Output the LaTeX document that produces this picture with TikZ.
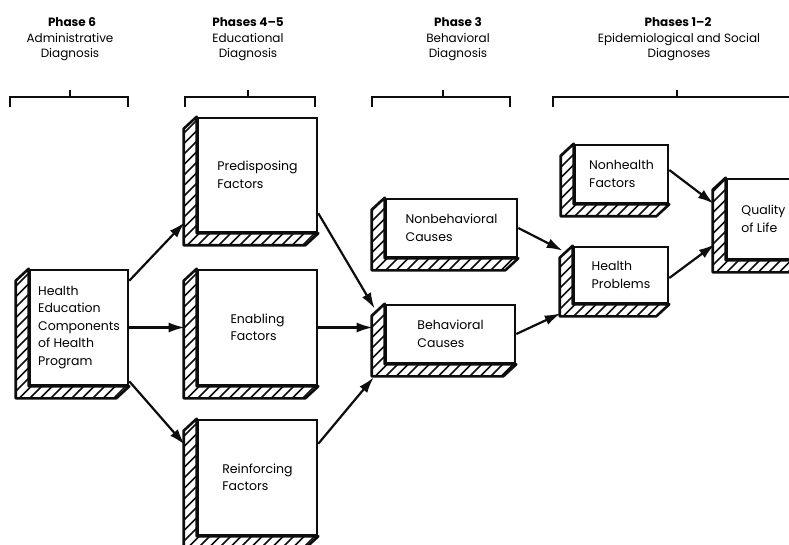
\documentclass[tikz,border=0pt]{standalone}
\usepackage{fontspec}
\setmainfont{Poppins}
\usetikzlibrary{arrows.meta, calc, positioning}
\definecolor{inkBlack}{gray}{0.05}

\tikzset{
  box/.style={draw=inkBlack, line width=2.6pt, fill=white, inner sep=0pt,
    align=left, font=\fontsize{12.5}{17.5}\selectfont},
  boxline/.style={draw=inkBlack, line width=2.6pt, line join=round},
  hatch/.style={inkBlack, line width=1.5pt},
  flow/.style={draw=inkBlack, line width=2.2pt, -{Latex[length=16pt,width=10pt]}},
  bracket/.style={draw=inkBlack, line width=1.8pt},
  phase/.style={font=\bfseries\fontsize{12}{14}\selectfont},
  diag/.style={align=center, font=\fontsize{12}{15}\selectfont},
}

% hatched extrusion on the lower left of a box
\newcommand{\extrude}[1]{%
  \begin{scope}
    \clip (#1.north west) -- ++(-13,12) -- ($(#1.south west)+(-13,12)$)
      -- ($(#1.south east)+(-13,12)$) -- (#1.south east) -- (#1.south west) -- cycle;
    \fill[white] ($(#1.south west)+(-20,20)$) rectangle (#1.north east);
    \foreach \k in {-15,...,15}
      \draw[hatch] ($(#1.south west)+(\k*10.5,13)$) -- ++(160,-160);
  \end{scope}
  \draw[boxline] (#1.north west) -- ++(-13,12) -- ($(#1.south west)+(-13,12)$)
    -- ($(#1.south east)+(-13,12)$) -- (#1.south east) -- (#1.south west) -- cycle;
}

\begin{document}
\begin{tikzpicture}[x=1pt, y=-1pt]
  \useasboundingbox (0,0) rectangle (789,545);
  \clip (0,0) rectangle (789,545);

  % phases
  \node[phase] (ph6) at (72,22) {Phase 6};
  \node[phase] (ph45) at (248,22) {Phases 4--5};
  \node[phase] (ph3) at (458,22) {Phase 3};
  \node[phase] (ph12) at (678,22) {Phases 1--2};
  \node[diag] (dg6) at (70,47.5) {Administrative\\Diagnosis};
  \node[diag] (dg45) at (248,47.5) {Educational\\Diagnosis};
  \node[diag] (dg3) at (458,47.5) {Behavioral\\Diagnosis};
  \node[diag] (dg12) at (679,47.5) {Epidemiological and Social\\Diagnoses};

  \foreach \l/\r/\m in {10/128/70, 185/315/248, 372/510/443, 553/801/677} {
    \draw[bracket] (\l,107) |- (\r,97) -- (\r,107);
    \draw[bracket] (\m,97) -- (\m,90);
  }

  % boxes
  \node[box, minimum width=98pt, minimum height=115pt] (he) at (79,327.5)
    {Health\\Education\\Components\\of Health\\Program};
  \node[box, minimum width=119pt, minimum height=114pt] (pred) at (257.5,175)
    {Predisposing\\Factors};
  \node[box, minimum width=119pt, minimum height=115pt] (enab) at (257.5,327.5)
    {Enabling\\Factors};
  \node[box, minimum width=119pt, minimum height=115pt] (rein) at (257.5,477.5)
    {Reinforcing\\Factors};
  \node[box, minimum width=131pt, minimum height=58pt] (nonbeh) at (451.5,228)
    {Nonbehavioral\\Causes};
  \node[box, minimum width=129pt, minimum height=58pt] (beh) at (450.5,334)
    {Behavioral\\Causes};
  \node[box, minimum width=93pt, minimum height=58pt] (nonh) at (621.5,174)
    {Nonhealth\\Factors};
  \node[box, minimum width=94pt, minimum height=56pt] (hp) at (621,275)
    {Health\\Problems};
  \node[box, minimum width=73pt, minimum height=80pt] (qol) at (763.5,219)
    {Quality\\of Life};

  \foreach \b in {he, pred, enab, rein, nonbeh, beh, nonh, hp, qol}
    \extrude{\b};

  % arrows
  \draw[flow] ($(he.north east)+(0,12)$) -- ($(pred.south west)+(-12,-11)$);
  \draw[flow, shorten >=12pt] (he.east) -- (enab.west);
  \draw[flow] ($(he.south east)+(0,-5)$) -- ($(rein.north west)+(-12,26)$);
  \draw[flow] ($(pred.south east)+(0,-20)$) -- ($(beh.north west)+(-10,5)$);
  \draw[flow, shorten >=12pt] (enab.east) -- (enab.east -| beh.west);
  \draw[flow] ($(rein.north east)+(0,25)$) -- ($(beh.south west)+(-11,13)$);
  \draw[flow] (nonbeh.east) -- ($(hp.north west)+(-10,5)$);
  \draw[flow] (beh.east) -- ($(hp.south west)+(-12,9)$);
  \draw[flow] ($(nonh.east)+(0,-4)$) -- ($(qol.north west)+(-12,26)$);
  \draw[flow] ($(hp.east)+(0,3)$) -- ($(qol.south west)+(-11,-16)$);
\end{tikzpicture}
\end{document}
